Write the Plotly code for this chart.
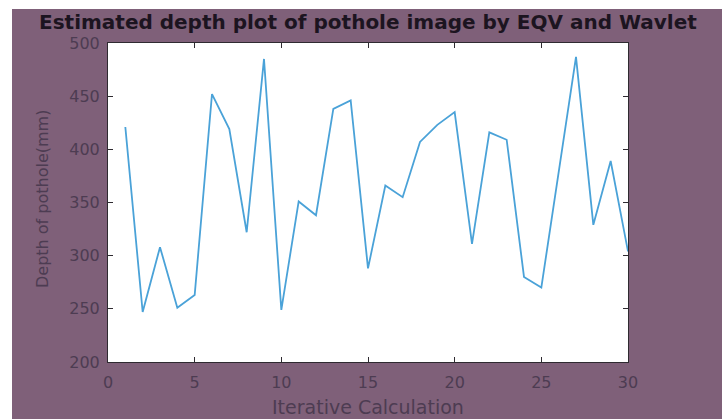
import plotly.graph_objects as go

# ---- data ----
iterations = list(range(1, 31))
depth_mm = [421, 247, 308, 251, 263, 452, 419, 322, 485, 249,
            351, 338, 438, 446, 288, 366, 355, 407, 423, 435,
            311, 416, 409, 280, 270, 380, 487, 329, 389, 304]
x_ticks = [0, 5, 10, 15, 20, 25, 30]
y_ticks = [200, 250, 300, 350, 400, 450, 500]

title_text = "Estimated depth plot of pothole image by EQV and Wavlet"
x_title = "Iterative Calculation"
y_title = "Depth of pothole(mm)"

# ---- layout constants (pixels) ----
W, H = 722, 419
L, R, T, B = 108, 628, 43, 362
PW, PH = R - L, B - T

def px(xp):
    return (xp - L) / PW

def py(yp):
    return (B - yp) / PH

purple = "#7f6079"
label_col = "#4d3c52"
axis_col = "#2e2a30"

fig = go.Figure()
fig.add_trace(go.Scatter(
    x=iterations, y=depth_mm, mode="lines",
    line=dict(color="#4aa2d8", width=1.8),
    showlegend=False, hoverinfo="x+y",
))

axis_common = dict(
    showgrid=False, zeroline=False,
    showline=True, linecolor=axis_col, linewidth=1,
    mirror="ticks", ticks="inside", ticklen=5, tickcolor=axis_col, tickwidth=1,
    tickfont=dict(family="DejaVu Sans", size=16, color=label_col),
)

fig.update_xaxes(range=[0, 30], tickvals=x_ticks, ticktext=[str(v) for v in x_ticks],
                 ticklabelstandoff=6, **axis_common)
fig.update_yaxes(range=[200, 500], tickvals=y_ticks, ticktext=[str(v) for v in y_ticks],
                 ticklabelstandoff=4, **axis_common)

fig.update_layout(
    width=W, height=H, autosize=False,
    margin=dict(l=L, r=W - R, t=T, b=H - B, pad=0),
    paper_bgcolor=purple, plot_bgcolor="white",
    shapes=[
        dict(type="rect", xref="paper", yref="paper", layer="above",
             x0=px(0), x1=px(12), y0=py(H), y1=py(0),
             fillcolor="white", line=dict(width=0)),
        dict(type="rect", xref="paper", yref="paper", layer="above",
             x0=px(0), x1=px(W), y0=py(9), y1=py(0),
             fillcolor="white", line=dict(width=0)),
    ],
    annotations=[
        dict(text=f"<b>{title_text}</b>", xref="paper", yref="paper",
             x=0.5, y=py(22), xanchor="center", yanchor="middle", showarrow=False,
             borderpad=0,
             font=dict(family="DejaVu Sans", size=20, color="#1c1420")),
        dict(text=x_title, xref="paper", yref="paper",
             x=0.5, y=py(407), xanchor="center", yanchor="middle", showarrow=False,
             font=dict(family="DejaVu Sans", size=19, color=label_col)),
        dict(text=y_title, xref="paper", yref="paper", textangle=-90,
             x=px(42), y=py(199), xanchor="center", yanchor="middle", showarrow=False,
             font=dict(family="DejaVu Sans", size=16, color=label_col)),
    ],
)

fig.write_html("out.html", config={"displayModeBar": False},
               post_script="document.body.style.margin='0';document.body.style.overflow='hidden';")
